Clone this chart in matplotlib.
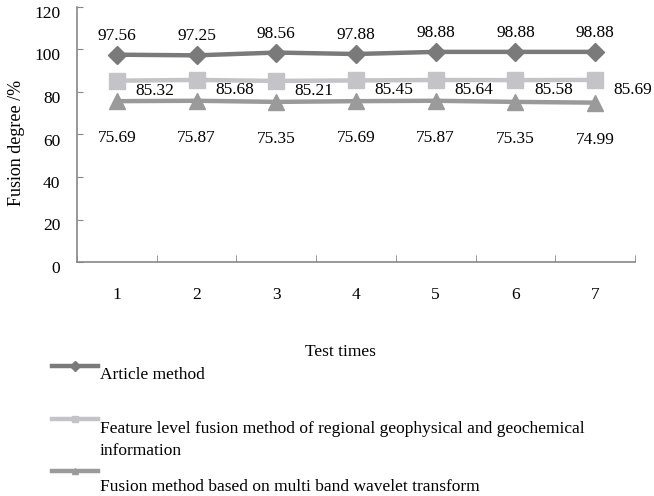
import matplotlib.pyplot as plt
from matplotlib.lines import Line2D
from matplotlib.transforms import ScaledTranslation
import numpy as np

plt.rcParams['font.family'] = ['Liberation Serif', 'DejaVu Serif']

tests = [1, 2, 3, 4, 5, 6, 7]
article = [97.56, 97.25, 98.56, 97.88, 98.88, 98.88, 98.88]
feature = [85.32, 85.68, 85.21, 85.45, 85.64, 85.58, 85.69]
wavelet = [75.69, 75.87, 75.35, 75.69, 75.87, 75.35, 74.99]
names = ['Article method',
         'Feature level fusion method of regional geophysical and geochemical\ninformation',
         'Fusion method based on multi band wavelet transform']
colors = ['#7a7a7a', '#c3c3c8', '#9a9a9a']
markers = ['D', 's', '^']

W, H = 654, 496
fig = plt.figure(figsize=(6.54, 4.96), dpi=100)
ax = fig.add_axes([77 / W, 1 - 262 / H, (635 - 77) / W, (262 - 7) / H])

ms = [9, 11, 11]
for vals, c, m, s in zip([article, feature, wavelet], colors, markers, ms):
    ax.plot(tests, vals, color=c, marker=m, markersize=s, linewidth=3.2)

for x, v in zip(tests, article):
    ax.annotate(f'{v:.2f}', (x, v), xytext=(0, 19), textcoords='offset pixels',
                ha='center', va='center', fontsize=12.5)
for x, v in zip(tests, feature):
    ax.annotate(f'{v:.2f}', (x, v), xytext=(38, -10), textcoords='offset pixels',
                ha='center', va='center', fontsize=12.5)
for x, v in zip(tests, wavelet):
    ax.annotate(f'{v:.2f}', (x, v), xytext=(0, -37), textcoords='offset pixels',
                ha='center', va='center', fontsize=12.5)

ax.set_xlim(0.5, 7.5)
ax.set_ylim(0, 120)
ax.set_yticks(np.arange(0, 121, 20))
ax.set_xticks(tests)
ax.set_xticks(np.arange(0.5, 7.6, 1), minor=True)
ax.tick_params(axis='x', which='major', length=0, pad=18, labelsize=12.5)
ax.tick_params(axis='x', which='minor', length=5, direction='in', color='#888888')
ax.tick_params(axis='y', length=4, direction='in', color='#888888', pad=12, labelsize=12.5)
# y labels sit a little below their ticks in the original
shift = ScaledTranslation(0, -5 / 100, fig.dpi_scale_trans)
for lab in ax.get_yticklabels():
    lab.set_transform(lab.get_transform() + shift)
for side in ['top', 'right']:
    ax.spines[side].set_visible(False)
for side in ['left', 'bottom']:
    ax.spines[side].set_color('#888888')
    ax.spines[side].set_linewidth(1.2)

fig.text(17 / W, 1 - 143 / H, 'Fusion degree /%', rotation=90, ha='center', va='center', fontsize=13)
fig.text(340 / W, 1 - 352 / H, 'Test times', ha='center', va='center', fontsize=12.5)

# legend drawn by hand: handle sits above its label
handle_y = [366, 419, 471]
text_y = [375, 421, 487]
for name, c, m, hy, ty in zip(names, colors, markers, handle_y, text_y):
    fig.add_artist(Line2D([52 / W, 98 / W], [1 - hy / H, 1 - hy / H], color=c, linewidth=3.2,
                          transform=fig.transFigure))
    fig.add_artist(Line2D([75 / W], [1 - hy / H], color=c, marker=m, markersize=5,
                          transform=fig.transFigure))
    fig.text(100 / W, 1 - ty / H, name, ha='left', va='top' if '\n' in name else 'center',
             fontsize=12.5, linespacing=1.5)

fig.savefig('out.png', dpi=100)
